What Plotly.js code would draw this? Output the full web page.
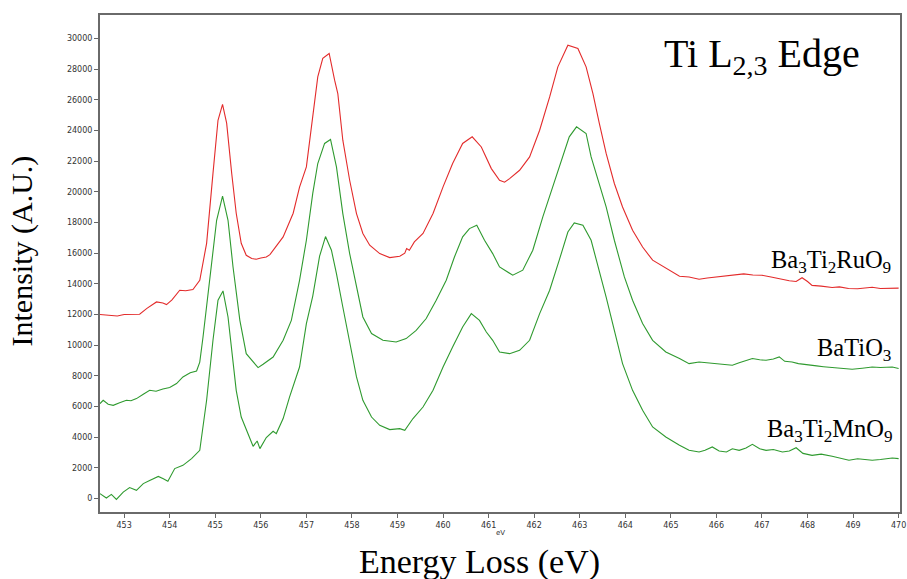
<!DOCTYPE html>
<html>
<head>
<meta charset="utf-8">
<script src="https://cdn.plot.ly/plotly-3.0.1.min.js"></script>
<style>html,body{margin:0;padding:0;background:#fff;}#chart{width:907px;height:579px;}</style>
</head>
<body>
<div id="chart"></div>
<script>
// Ba3Ti2RuO9 (red)
var ruX = [452.47,452.70,452.85,453.00,453.20,453.34,453.50,453.71,453.85,453.93,454.05,454.22,454.35,454.51,454.66,454.81,454.95,455.06,455.16,455.25,455.36,455.46,455.57,455.68,455.80,455.90,456.00,456.12,456.20,456.27,456.49,456.71,456.85,457.00,457.14,457.25,457.36,457.50,457.62,457.69,457.80,457.95,458.10,458.24,458.39,458.61,458.83,459.05,459.16,459.20,459.26,459.37,459.56,459.78,460.00,460.21,460.43,460.64,460.84,461.06,461.24,461.35,461.46,461.68,461.90,462.12,462.34,462.52,462.74,462.96,463.14,463.29,463.43,463.58,463.76,463.94,464.16,464.38,464.60,464.89,465.19,465.40,465.62,465.80,466.00,466.20,466.40,466.60,466.80,467.00,467.20,467.40,467.60,467.75,467.88,468.00,468.10,468.30,468.54,468.70,468.90,469.10,469.30,469.42,469.60,469.80,470.00];
var ruY = [12000,11950,11900,12000,12000,12020,12400,12820,12750,12650,12950,13580,13550,13630,14230,16640,21200,24660,25700,24470,21220,18600,16640,15860,15650,15600,15680,15750,15900,16190,17060,18600,20300,21620,24880,27490,28690,29010,27270,26400,23360,20750,18580,17280,16520,15970,15710,15800,16000,16300,16190,16730,17280,18580,20320,21840,23150,23580,22920,21510,20750,20620,20860,21400,22270,24010,26180,28140,29550,29340,28140,26400,24460,22500,20540,19010,17490,16400,15540,15000,14490,14450,14300,14380,14450,14520,14600,14650,14580,14560,14450,14300,14200,14150,14400,14150,13900,13850,13760,13800,13700,13680,13750,13780,13700,13720,13720];

// BaTiO3 (green, middle)
var btX = [452.47,452.54,452.65,452.76,452.90,453.05,453.15,453.27,453.42,453.56,453.70,453.85,454.00,454.15,454.29,454.45,454.59,454.66,454.73,454.81,454.88,454.95,455.03,455.16,455.28,455.39,455.54,455.68,455.83,455.90,455.94,456.05,456.27,456.49,456.67,456.85,457.00,457.14,457.25,457.40,457.53,457.66,457.80,457.95,458.10,458.24,458.43,458.68,458.97,459.19,459.41,459.63,459.85,460.07,460.25,460.43,460.58,460.74,460.91,461.09,461.24,461.53,461.75,461.97,462.19,462.41,462.63,462.77,462.93,463.14,463.25,463.43,463.58,463.76,463.98,464.16,464.38,464.60,464.89,465.19,465.40,465.62,465.80,466.06,466.20,466.35,466.50,466.65,466.79,466.95,467.09,467.25,467.38,467.50,467.66,467.80,468.04,468.20,468.35,468.54,468.70,468.98,469.20,469.42,469.60,469.86,470.00];
var btY = [6190,6410,6150,6080,6250,6410,6380,6520,6800,7060,7000,7150,7240,7500,7930,8200,8320,8900,10500,12500,14230,16190,18140,19710,18140,15100,11620,9450,8910,8700,8540,8760,9230,10320,11620,14230,16840,19890,21840,23150,23410,21620,18580,15970,13800,11840,10760,10320,10210,10430,10970,11740,12930,14230,15750,17060,17600,17820,16840,15970,15100,14560,14890,16190,18360,20320,22270,23580,24230,23800,22270,20540,19010,16840,14450,12930,11410,10320,9560,9130,8800,8910,8850,8800,8750,8690,8850,9000,9130,9050,9020,9100,9240,8950,8910,8800,8690,8650,8600,8540,8500,8430,8500,8580,8550,8580,8480];

// Ba3Ti2MnO9 (green, bottom)
var mnX = [452.47,452.61,452.72,452.83,452.98,453.12,453.27,453.42,453.56,453.75,453.86,453.96,454.11,454.29,454.48,454.66,454.81,454.95,455.06,455.17,455.28,455.39,455.46,455.57,455.72,455.83,455.92,455.98,456.12,456.27,456.34,456.49,456.63,456.85,457.00,457.14,457.29,457.42,457.55,457.66,457.80,457.95,458.10,458.24,458.43,458.61,458.83,459.05,459.16,459.34,459.56,459.78,460.00,460.21,460.43,460.62,460.80,460.95,461.09,461.24,461.46,461.68,461.90,462.12,462.34,462.55,462.74,462.88,463.07,463.25,463.39,463.58,463.76,463.94,464.16,464.38,464.60,464.89,465.19,465.40,465.62,465.75,465.91,466.06,466.22,466.35,466.50,466.65,466.79,466.95,467.09,467.25,467.45,467.60,467.75,467.90,468.10,468.30,468.54,468.70,468.91,469.10,469.42,469.60,469.86,470.00];
var mnY = [330,40,280,-50,430,720,540,980,1190,1450,1300,1130,1960,2170,2610,3150,6410,10320,12930,13540,11840,9020,7060,5320,4240,3410,3760,3260,3980,4390,4240,5220,6620,8580,11410,13200,15800,17080,16190,14670,12490,10100,7930,6410,5320,4780,4500,4560,4450,5220,5970,7060,8580,9880,11190,12060,11620,10860,10320,9560,9450,9670,10320,12060,13580,15540,17380,17970,17820,16840,15320,13140,10970,8800,7060,5760,4670,4020,3480,3150,3040,3150,3370,3100,3040,3250,3150,3300,3540,3250,3150,3200,3040,3100,3320,2950,2820,2900,2760,2650,2500,2600,2500,2550,2650,2610];

var xTicks = [453,454,455,456,457,458,459,460,461,462,463,464,465,466,467,468,469,470];
var yTicks = [0,2000,4000,6000,8000,10000,12000,14000,16000,18000,20000,22000,24000,26000,28000,30000];

var RED = '#e32b2b', GREEN = '#2f9a2f';
var traces = [
  {x: ruX, y: ruY, type: 'scatter', mode: 'lines', line: {color: RED, width: 1.1}, hoverinfo: 'skip'},
  {x: btX, y: btY, type: 'scatter', mode: 'lines', line: {color: GREEN, width: 1.1}, hoverinfo: 'skip'},
  {x: mnX, y: mnY, type: 'scatter', mode: 'lines', line: {color: GREEN, width: 1.1}, hoverinfo: 'skip'}
];

var serif = 'Liberation Serif, Times New Roman, serif';
var layout = {
  width: 907, height: 579,
  margin: {l: 100, r: 7, t: 15, b: 67},
  paper_bgcolor: '#fff', plot_bgcolor: '#fff',
  showlegend: false,
  xaxis: {
    range: [452.47, 470.03], tickvals: xTicks, ticktext: xTicks.map(String),
    showgrid: false, zeroline: false, ticks: 'outside', ticklen: 4, tickcolor: '#666',
    showline: true, linecolor: '#6a6a6a', linewidth: 2, mirror: true,
    tickfont: {family: 'DejaVu Sans, Verdana, sans-serif', size: 8, color: '#333'}
  },
  yaxis: {
    range: [-870, 31520], tickvals: yTicks, ticktext: yTicks.map(String),
    showgrid: false, zeroline: false, ticks: 'outside', ticklen: 4, tickcolor: '#666',
    showline: true, linecolor: '#6a6a6a', linewidth: 2, mirror: true,
    tickfont: {family: 'DejaVu Sans, Verdana, sans-serif', size: 8, color: '#333'}
  },
  annotations: [
    {xref: 'paper', yref: 'paper', x: 0.8275, y: 0.917, xanchor: 'center', yanchor: 'middle', showarrow: false,
     text: 'Ti L<sub>2,3</sub> Edge', font: {family: serif, size: 40, color: '#000'}},
    {xref: 'paper', yref: 'paper', x: 0.991, y: 0.505, xanchor: 'right', yanchor: 'middle', showarrow: false,
     text: 'Ba<sub>3</sub>Ti<sub>2</sub>RuO<sub>9</sub>', font: {family: serif, size: 24.5, color: '#000'}},
    {xref: 'paper', yref: 'paper', x: 0.991, y: 0.326, xanchor: 'right', yanchor: 'middle', showarrow: false,
     text: 'BaTiO<sub>3</sub>', font: {family: serif, size: 24.5, color: '#000'}},
    {xref: 'paper', yref: 'paper', x: 0.994, y: 0.163, xanchor: 'right', yanchor: 'middle', showarrow: false,
     text: 'Ba<sub>3</sub>Ti<sub>2</sub>MnO<sub>9</sub>', font: {family: serif, size: 24.5, color: '#000'}},
    {xref: 'paper', yref: 'paper', x: 0.5, y: -0.042, xanchor: 'center', yanchor: 'middle', showarrow: false,
     text: 'eV', font: {family: 'DejaVu Sans, sans-serif', size: 7, color: '#333'}},
    {xref: 'paper', yref: 'paper', x: 0.474, y: -0.1, xanchor: 'center', yanchor: 'middle', showarrow: false,
     text: 'Energy Loss (eV)', font: {family: serif, size: 34, color: '#000'}},
    {xref: 'paper', yref: 'paper', x: -0.097, y: 0.525, xanchor: 'center', yanchor: 'middle', showarrow: false, textangle: -90,
     text: 'Intensity (A.U.)', font: {family: serif, size: 30, color: '#000'}}
  ]
};

Plotly.newPlot('chart', traces, layout, {staticPlot: true, displayModeBar: false});
</script>
</body>
</html>
